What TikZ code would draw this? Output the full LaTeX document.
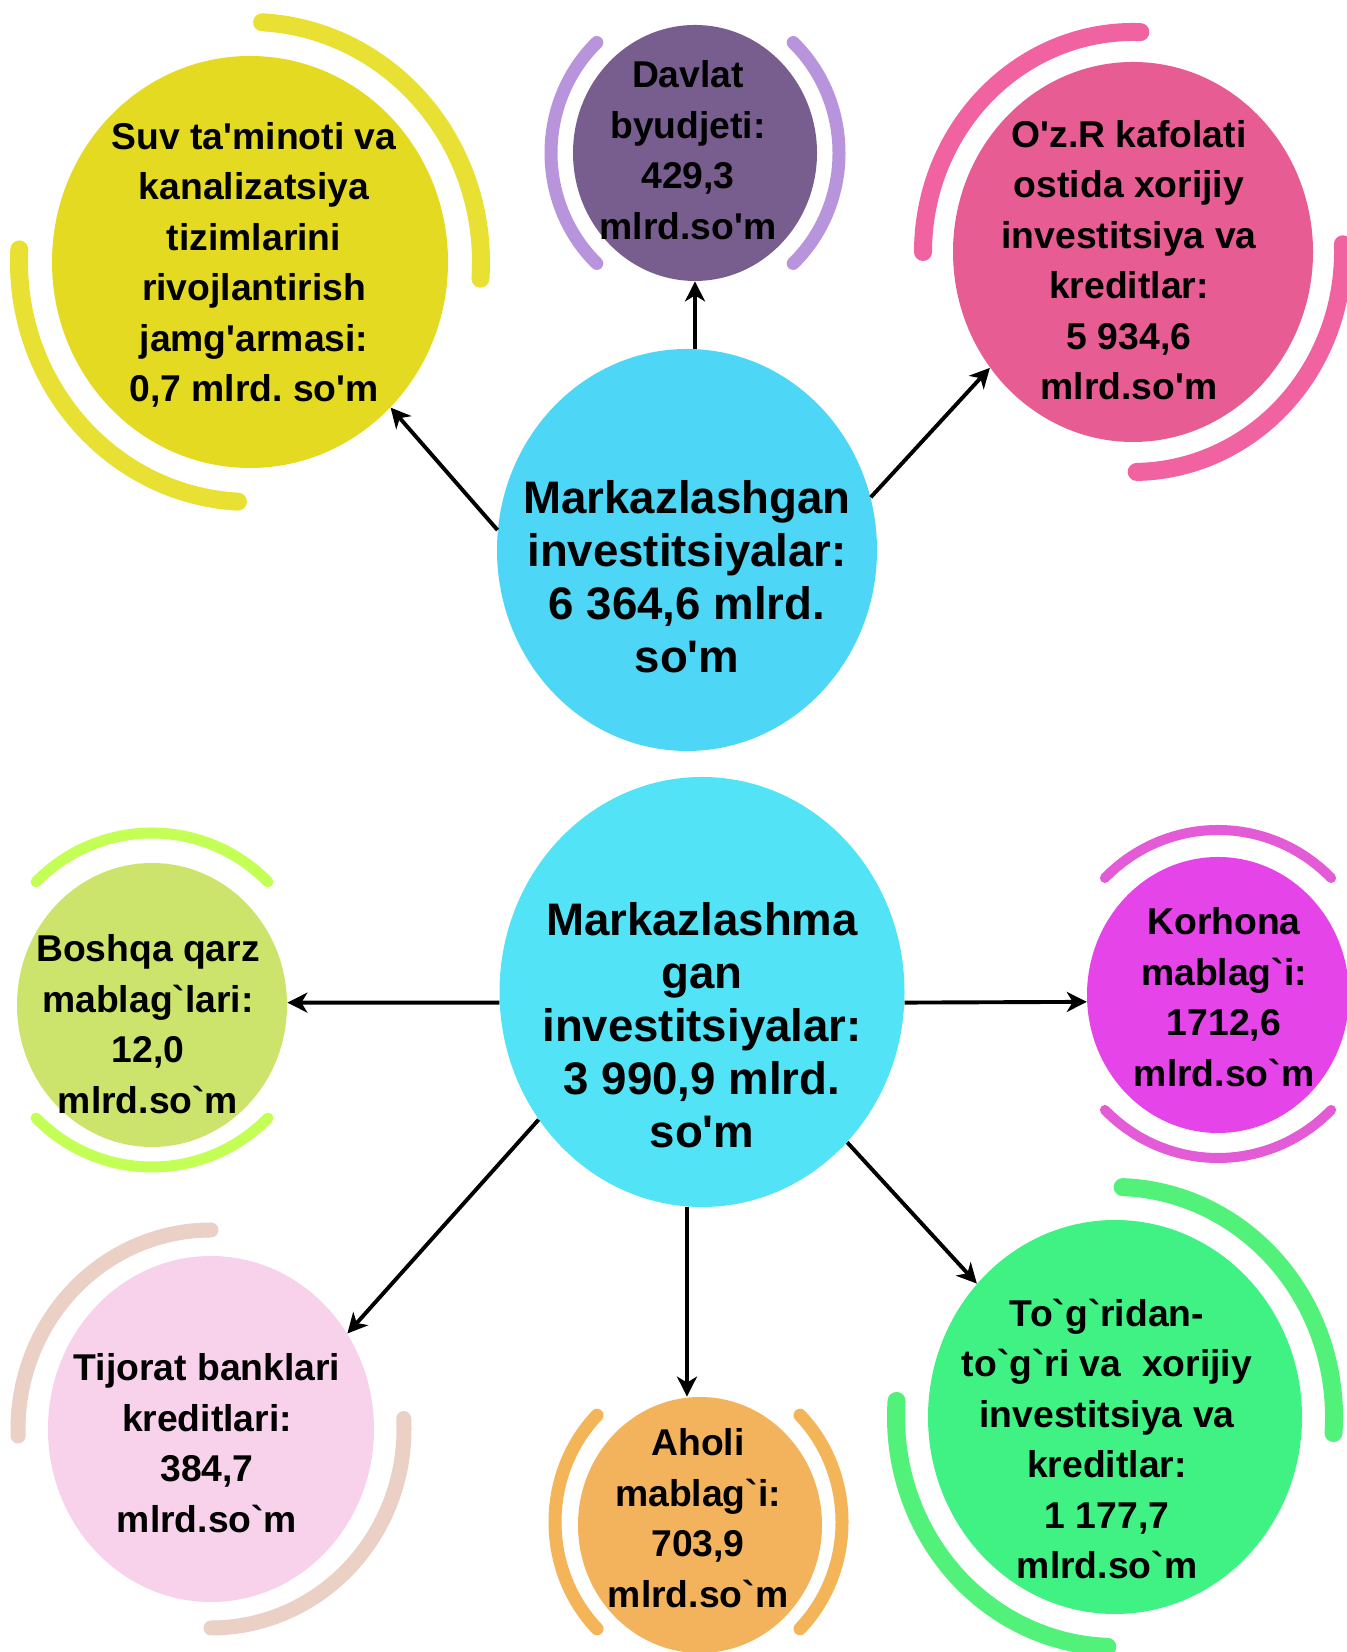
\documentclass[tikz,border=0pt]{standalone}
\usepackage{fontspec}
\newfontfamily\lsans{Liberation Sans}
\usetikzlibrary{shapes.geometric,arrows.meta}
\frenchspacing
\definecolor{cTop}{HTML}{4ED6F6}
\definecolor{cBot}{HTML}{52E3F7}
\definecolor{yelF}{HTML}{E4DA22}
\definecolor{yelA}{HTML}{E8E133}
\definecolor{davF}{HTML}{785E8E}
\definecolor{davA}{HTML}{B794DB}
\definecolor{pnkF}{HTML}{E75C93}
\definecolor{pnkA}{HTML}{F062A0}
\definecolor{bosF}{HTML}{CDE46C}
\definecolor{bosA}{HTML}{C3FF55}
\definecolor{korF}{HTML}{E544E8}
\definecolor{korA}{HTML}{E35BD6}
\definecolor{tijF}{HTML}{F8D1EA}
\definecolor{tijA}{HTML}{EBD0C6}
\definecolor{ahoF}{HTML}{F3B35C}
\definecolor{ahoA}{HTML}{F4B458}
\definecolor{grnF}{HTML}{3FF283}
\definecolor{grnA}{HTML}{52F27A}
\begin{document}
\begin{tikzpicture}[x=0.5pt,y=0.5pt,
  bub/.style={ellipse, inner sep=0pt, draw=none},
  big/.style={font=\lsans\bfseries\fontsize{22.8pt}{26.5pt}\selectfont, align=center, inner sep=0pt},
  sml/.style={font=\lsans\bfseries\fontsize{18.65pt}{25.25pt}\selectfont, align=center, inner sep=0pt},
  ring/.style={line cap=round},
  arr/.style={-{Stealth[length=10pt,width=10pt,inset=3pt]}, line width=1.95pt, black}]
\clip (0,0) rectangle (1347,1652);
\fill[white] (0,0) rectangle (1347,1652);

% rings
\draw[ring, yelA, line width=9pt] (250,1390) ++(87:231 and 240) arc[start angle=87, end angle=-4, x radius=231, y radius=240];
\draw[ring, yelA, line width=9pt] (250,1390) ++(177:231 and 240) arc[start angle=177, end angle=267, x radius=231, y radius=240];
\draw[ring, davA, line width=6.5pt] (695,1499) ++(133:144 and 151) arc[start angle=133, end angle=227, x radius=144, y radius=151];
\draw[ring, davA, line width=6.5pt] (695,1499) ++(-47:144 and 151) arc[start angle=-47, end angle=47, x radius=144, y radius=151];
\draw[ring, pnkA, line width=9pt] (1133,1400) ++(88:210 and 220) arc[start angle=88, end angle=180, x radius=210, y radius=220];
\draw[ring, pnkA, line width=9pt] (1133,1400) ++(2:210 and 220) arc[start angle=2, end angle=-89, x radius=210, y radius=220];
\draw[ring, bosA, line width=5.5pt] (152,652) ++(45:164 and 167) arc[start angle=45, end angle=135, x radius=164, y radius=167];
\draw[ring, bosA, line width=5.5pt] (152,652) ++(225:164 and 167) arc[start angle=225, end angle=315, x radius=164, y radius=167];
\draw[ring, korA, line width=5pt] (1218,658) ++(45:160 and 164) arc[start angle=45, end angle=135, x radius=160, y radius=164];
\draw[ring, korA, line width=5pt] (1218,658) ++(225:160 and 164) arc[start angle=225, end angle=315, x radius=160, y radius=164];
\draw[ring, tijA, line width=7.5pt] (211,223) ++(90:193 and 199) arc[start angle=90, end angle=182, x radius=193, y radius=199];
\draw[ring, tijA, line width=7.5pt] (211,223) ++(3:193 and 199) arc[start angle=3, end angle=-90, x radius=193, y radius=199];
\draw[ring, ahoA, line width=6.5pt] (698.5,130) ++(135:143.5 and 151) arc[start angle=135, end angle=225, x radius=143.5, y radius=151];
\draw[ring, ahoA, line width=6.5pt] (698.5,130) ++(-45:143.5 and 151) arc[start angle=-45, end angle=45, x radius=143.5, y radius=151];
\draw[ring, grnA, line width=9pt] (1115,235) ++(88:219 and 230) arc[start angle=88, end angle=-4, x radius=219, y radius=230];
\draw[ring, grnA, line width=9pt] (1115,235) ++(176:219 and 230) arc[start angle=176, end angle=268, x radius=219, y radius=230];

% bubbles
\node[bub, fill=cTop, minimum width=380pt/2, minimum height=402pt/2] (c1) at (687,1102) {};
\node[bub, fill=cBot, minimum width=405pt/2, minimum height=430pt/2] (c2) at (702,660) {};
\node[bub, fill=yelF, minimum width=396pt/2, minimum height=412pt/2] (yel) at (250,1390) {};
\node[bub, fill=davF, minimum width=244pt/2, minimum height=256pt/2] (dav) at (695,1499) {};
\node[bub, fill=pnkF, minimum width=360pt/2, minimum height=380pt/2] (pnk) at (1133,1400) {};
\node[bub, fill=bosF, minimum width=270pt/2, minimum height=284pt/2] (bos) at (152,647) {};
\node[bub, fill=korF, minimum width=262pt/2, minimum height=276pt/2] (kor) at (1218,657) {};
\node[bub, fill=tijF, minimum width=326pt/2, minimum height=346pt/2] (tij) at (211,223) {};
\node[bub, fill=ahoF, minimum width=244pt/2, minimum height=256pt/2] (aho) at (700,127) {};
\node[bub, fill=grnF, minimum width=374pt/2, minimum height=394pt/2] (grn) at (1115,235) {};

% texts
\node[big] (t1) at (687,1075) {Markazlashgan\\investitsiyalar:\\6 364,6 mlrd.\\so'm};
\node[big] (t2) at (702,627) {Markazlashma\\gan\\investitsiyalar:\\3 990,9 mlrd.\\so'm};
\node[sml] (tyel) at (254,1387) {Suv ta'minoti va\\kanalizatsiya\\tizimlarini\\rivojlantirish\\jamg'armasi:\\0,7 mlrd.\ so'm};
\node[sml] (tdav) at (688,1502) {Davlat\\byudjeti:\\429,3\\mlrd.so'm};
\node[sml] (tpnk) at (1129,1392) {O'z.R kafolati\\ostida xorijiy\\investitsiya va\\kreditlar:\\5 934,6\\mlrd.so'm};
\node[sml] (tbos) at (148,628) {Boshqa qarz\\mablag`lari:\\12,0\\mlrd.so`m};
\node[sml] (tkor) at (1224,655) {Korhona\\mablag`i:\\1712,6\\mlrd.so`m};
\node[sml] (ttij) at (207,209) {Tijorat banklari\\kreditlari:\\384,7\\mlrd.so`m};
\node[sml] (taho) at (698,134) {Aholi\\mablag`i:\\703,9\\mlrd.so`m};
\node[sml] (tgrn) at (1107,213) {To`g`ridan-\\to`g`ri va\ \ xorijiy\\investitsiya va\\kreditlar:\\1 177,7\\mlrd.so`m};

% connectors
\draw[arr] (dav.south |- c1.north) -- (dav.south);
\draw[arr] (c1.174) -- (yel.-46);
\draw[arr] (c1.16.7) -- (pnk.219.6);
\draw[arr] (c2.183) -- (bos.1);
\draw[arr] (c2.-3) -- (kor.183);
\draw[arr] (c2.218.7) -- (tij.35.9);
\draw[arr] (c2.266) -- (c2.266 |- aho.north);
\draw[arr] (c2.-46.9) -- (grn.136.8);
\end{tikzpicture}
\end{document}
